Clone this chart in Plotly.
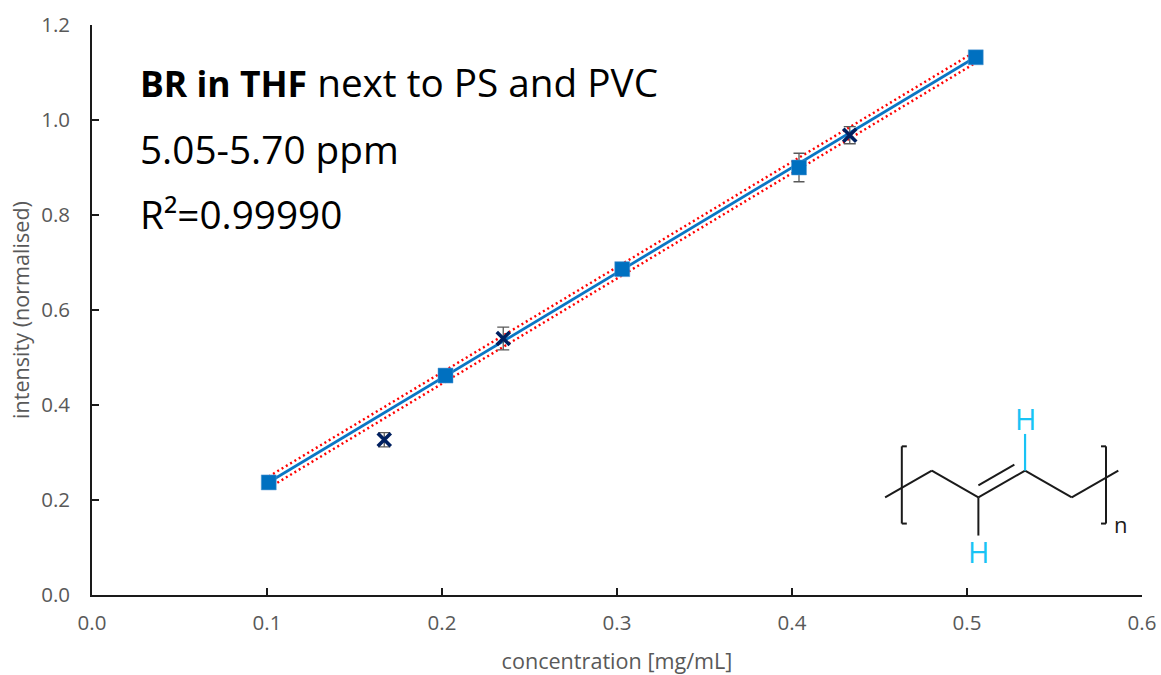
import plotly.graph_objects as go

conc_cal = [0.101, 0.202, 0.303, 0.404, 0.505]
int_cal = [0.237, 0.462, 0.686, 0.900, 1.132]
err_cal = [0.004, 0.004, 0.004, 0.030, 0.004]
conc_val = [0.167, 0.235, 0.433]
int_val = [0.327, 0.540, 0.968]
err_val = [0.015, 0.024, 0.018]
fit_x = [0.101, 0.505]
fit_y = [0.2375, 1.1325]
upper_y = [0.2495, 1.1445]
lower_y = [0.2255, 1.1205]
x_ticks = [0.0, 0.1, 0.2, 0.3, 0.4, 0.5, 0.6]
y_ticks = [0.0, 0.2, 0.4, 0.6, 0.8, 1.0, 1.2]

W, H = 1161, 675
L, R, T, B = 91.5, 19, 25, 79.5
FONT = "Open Sans"
GREY = "#595959"
INK = "#1a1a1a"


def seg(x0, y0, x1, y1, color=INK, width=2):
    return dict(type="line", xref="paper", yref="paper", layer="above",
                x0=(x0 - L) / (W - L - R), x1=(x1 - L) / (W - L - R),
                y0=1 - (y0 - T) / (H - T - B), y1=1 - (y1 - T) / (H - T - B),
                line=dict(color=color, width=width))


def label(x, y, text, size, color="black", xanchor="left"):
    return dict(xref="paper", yref="paper", x=(x - L) / (W - L - R),
                y=1 - (y - T) / (H - T - B), text=text, showarrow=False,
                xanchor=xanchor, yanchor="middle", borderpad=0,
                font=dict(family=FONT, size=size, color=color))


fig = go.Figure()
for ys in (upper_y, lower_y):
    fig.add_trace(go.Scatter(x=fit_x, y=ys, mode="lines",
                             line=dict(color="#ff0000", width=2.4, dash="2px 3px")))
fig.add_trace(go.Scatter(x=fit_x, y=fit_y, mode="lines",
                         line=dict(color="#0b76c4", width=2.8)))
fig.add_trace(go.Scatter(x=conc_cal, y=int_cal, mode="markers",
                         marker=dict(symbol="square", size=15, color="#0070c0",
                                     line=dict(color="#5b9bd5", width=0.5)),
                         error_y=dict(type="data", array=err_cal, color=GREY,
                                      thickness=1.3, width=5.5)))
fig.add_trace(go.Scatter(x=conc_val, y=int_val, mode="markers",
                         marker=dict(symbol="x-thin", size=13,
                                     line=dict(color="#002060", width=3.6)),
                         error_y=dict(type="data", array=err_val, color=GREY,
                                      thickness=1.3, width=6)))

shapes = [
    seg(885, 497.7, 931.7, 471), seg(931.7, 471, 978.3, 497.7),
    seg(978.3, 497.7, 1025, 471), seg(1025, 471, 1071.7, 497.7),
    seg(1071.7, 497.7, 1118.3, 471), seg(978.3, 485.7, 1014.3, 465),
    seg(978.3, 497.7, 978.3, 536), seg(1025, 471, 1025, 434.3, "#19c3f5", 2.2),
    seg(901.7, 446.7, 901.7, 524), seg(901.7, 446.7, 906.7, 446.7),
    seg(901.7, 524, 906.7, 524), seg(1106, 446.7, 1106, 524),
    seg(1101, 446.7, 1106, 446.7), seg(1101, 524, 1106, 524),
]
annotations = [
    label(139, 82, '<b><span style="font-size:35.5px">BR in THF</span></b> next to PS and PVC', 38.7),
    label(139, 149, "5.05-5.70 ppm", 38.7),
    label(139, 214, "R²=0.99990", 38.7),
    label(1025, 419, "H", 29, "#19c3f5", "center"),
    label(978, 552, "H", 29, "#19c3f5", "center"),
    label(1120.7, 524, "n", 22, INK, "center"),
]

fig.update_layout(
    width=W, height=H, showlegend=False, plot_bgcolor="white", paper_bgcolor="white",
    margin=dict(l=L, r=R, t=T, b=B, autoexpand=False),
    font=dict(family=FONT, size=20.5, color=GREY),
    shapes=shapes, annotations=annotations,
    xaxis=dict(range=[0, 0.6], tickvals=x_ticks, tickformat=".1f", showgrid=False,
               zeroline=False, showline=True, linecolor=INK, linewidth=1.8,
               ticks="inside", ticklen=7, tickcolor=INK, tickwidth=1.8,
               ticklabelstandoff=8,
               title=dict(text="concentration [mg/mL]", standoff=20,
                          font=dict(size=21.6, color=GREY))),
    yaxis=dict(range=[0, 1.2], tickvals=y_ticks, tickformat=".1f", showgrid=False,
               zeroline=False, showline=True, linecolor=INK, linewidth=1.8,
               ticks="inside", ticklen=7, tickcolor=INK, tickwidth=1.8,
               ticklabelstandoff=16,
               title=dict(text="intensity (normalised)", standoff=6,
                          font=dict(size=21.6, color=GREY))),
)
fig.write_html("out.html", post_script="document.body.style.margin='0';",
               config={"displayModeBar": False})
